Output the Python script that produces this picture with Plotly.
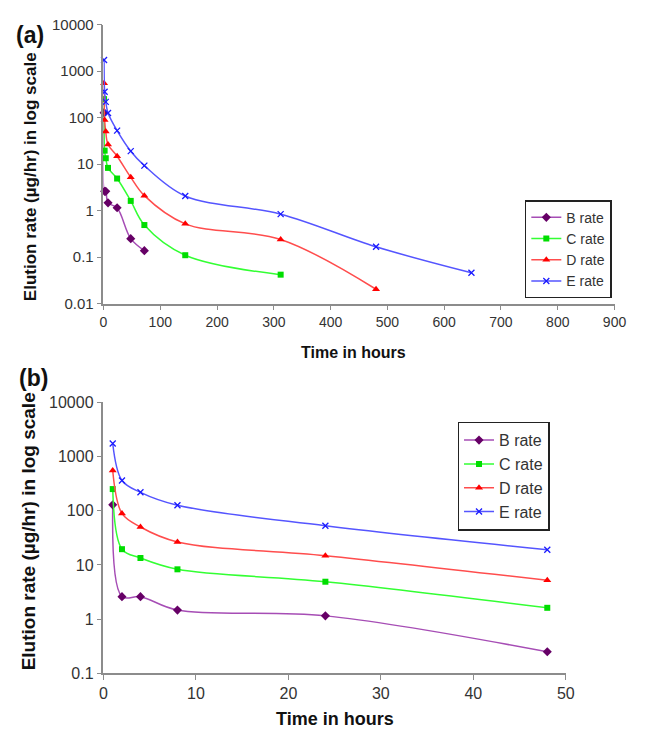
import plotly.graph_objects as go

W, H = 648, 739

# ---- data (time in hours, elution rate in ug/hr) ----
series_names = ["B rate", "C rate", "D rate", "E rate"]
t_b = [1, 2, 4, 8, 24, 48, 72]
b_rate = [128, 2.6, 2.6, 1.47, 1.15, 0.25, 0.138]
t_c = [1, 2, 4, 8, 24, 48, 72, 144, 312]
c_rate = [250, 19.5, 13.4, 8.3, 4.9, 1.62, 0.49, 0.11, 0.042]
t_d = [1, 2, 4, 8, 24, 48, 72, 144, 312, 480]
d_rate = [550, 89, 50, 26.5, 14.8, 5.2, 2.1, 0.52, 0.24, 0.0204]
t_e = [1, 2, 4, 8, 24, 48, 72, 144, 312, 480, 648]
e_rate = [1730, 360, 218, 126, 52.6, 19, 9.3, 2.06, 0.84, 0.167, 0.046]
zoom_limit_hours = 48

y_tickvals = [0.01, 0.1, 1, 10, 100, 1000, 10000]
y_ticktext = ["0.01", "0.1", "1", "10", "100", "1000", "10000"]

styles = [
    dict(line="#A64DB5", marker="#660066", symbol="diamond", size=7),
    dict(line="#33FF33", marker="#00DD00", symbol="square", size=6),
    dict(line="#FF4D4D", marker="#FF0000", symbol="triangle-up", size=7),
    dict(line="#5555FF", marker="#1A1AFF", symbol="x-thin", size=6),
]
data = [(t_b, b_rate), (t_c, c_rate), (t_d, d_rate), (t_e, e_rate)]


def px(x):
    return x / W


def py(y):
    return 1 - y / H


fig = go.Figure()

for (t, r), name, st in zip(data, series_names, styles):
    marker = dict(symbol=st["symbol"], size=st["size"], color=st["marker"],
                  line=dict(width=1.3 if st["symbol"] == "x-thin" else 0, color=st["marker"]))
    fig.add_trace(go.Scatter(
        x=t, y=r, name=name, mode="lines+markers",
        line=dict(color=st["line"], width=1.5, shape="spline", smoothing=1),
        marker=marker, xaxis="x", yaxis="y", legend="legend",
        legendgroup=name, cliponaxis=False))
    tz = [a for a in t if a <= zoom_limit_hours]
    rz = r[:len(tz)]
    fig.add_trace(go.Scatter(
        x=tz, y=rz, name=name, mode="lines+markers",
        line=dict(color=st["line"], width=1.5, shape="spline", smoothing=1),
        marker=marker, xaxis="x2", yaxis="y2", legend="legend2",
        legendgroup=name + "b", cliponaxis=False))

axis_common = dict(showgrid=False, zeroline=False, showline=True, linecolor="#8c8c8c",
                   linewidth=1.5, ticks="outside", tickcolor="#8c8c8c", ticklen=5,
                   tickwidth=1.2)

fig.update_layout(
    width=W, height=H,
    margin=dict(l=0, r=0, t=0, b=0),
    paper_bgcolor="white", plot_bgcolor="white",
    font=dict(family="Arial, Liberation Sans", color="#333333"),
    xaxis=dict(domain=[px(102), px(626)], anchor="y", range=[0, 900], dtick=100,
               tickfont=dict(size=14), **axis_common),
    yaxis=dict(domain=[py(302), py(16)], anchor="x", type="log", range=[-2, 4],
               tickvals=y_tickvals, ticktext=y_ticktext, tickfont=dict(size=15),
               **axis_common),
    xaxis2=dict(domain=[px(102), px(576)], anchor="y2", range=[0, 50], dtick=10,
                tickfont=dict(size=16), **axis_common),
    yaxis2=dict(domain=[py(681), py(403)], anchor="x2", type="log", range=[-1, 4],
                tickvals=y_tickvals[1:], ticktext=y_ticktext[1:], tickfont=dict(size=16),
                **axis_common),
    legend=dict(x=px(534), y=py(196), xanchor="left", yanchor="top",
                bordercolor="#222222", borderwidth=1.5, bgcolor="white",
                font=dict(size=14, color="#333333"), tracegroupgap=0),
    legend2=dict(x=px(465), y=py(423), xanchor="left", yanchor="top",
                 bordercolor="#222222", borderwidth=1.5, bgcolor="white",
                 font=dict(size=16, color="#333333"), tracegroupgap=0),
    showlegend=True,
)

ann = [
    dict(text="<b>(a)</b>", x=px(10), y=py(27), xanchor="left", yanchor="middle",
         font=dict(size=23, color="#111111")),
    dict(text="<b>(b)</b>", x=px(13), y=py(378), xanchor="left", yanchor="middle",
         font=dict(size=23, color="#111111")),
    dict(text="<b>Elution rate (µg/hr) in log scale</b>", x=px(27), y=py(172),
         xanchor="center", yanchor="middle", textangle=-90,
         font=dict(size=17, color="#111111")),
    dict(text="<b>Elution rate (µg/hr) in log scale</b>", x=px(26), y=py(535),
         xanchor="center", yanchor="middle", textangle=-90,
         font=dict(size=19, color="#111111")),
    dict(text="<b>Time in hours</b>", x=px(358), y=py(352), xanchor="center",
         yanchor="middle", font=dict(size=16, color="#111111")),
    dict(text="<b>Time in hours</b>", x=px(339), y=py(728), xanchor="center",
         yanchor="middle", font=dict(size=18, color="#111111")),
]
for a in ann:
    a.update(xref="paper", yref="paper", showarrow=False)
fig.update_layout(annotations=ann)

fig.write_html("out.html", config={"displayModeBar": False},
               post_script="document.body.style.margin='0';")
